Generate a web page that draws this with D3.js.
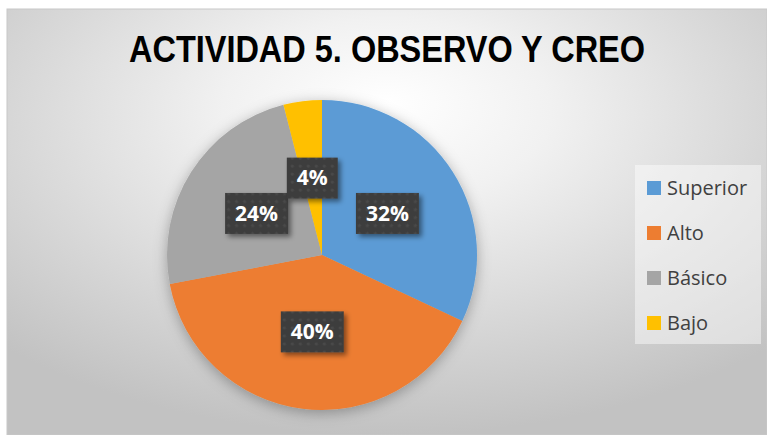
<!DOCTYPE html>
<html>
<head>
<meta charset="utf-8">
<script src="https://cdn.jsdelivr.net/npm/d3@7"></script>
<style>
html,body{margin:0;padding:0;background:#fff;}
svg{display:block;}
</style>
</head>
<body>
<svg id="chart" width="767" height="435"></svg>
<script>
const title = "ACTIVIDAD 5. OBSERVO Y CREO";
const categories = ["Superior", "Alto", "Básico", "Bajo"];
const values = [32, 40, 24, 4];
const labels = ["32%", "40%", "24%", "4%"];
const colors = ["#5b9bd5", "#ed7d31", "#a5a5a5", "#ffc000"];

const svg = d3.select("#chart");
const defs = svg.append("defs");

const bg = defs.append("radialGradient").attr("id","bg")
  .attr("cx","50%").attr("cy","28%").attr("r","72%").attr("fx","50%").attr("fy","22%");
bg.append("stop").attr("offset","0%").attr("stop-color","#ffffff");
bg.append("stop").attr("offset","30%").attr("stop-color","#f1f1f1");
bg.append("stop").attr("offset","100%").attr("stop-color","#c2c2c2");

const pieShadow = defs.append("filter").attr("id","pieShadow")
  .attr("x","-20%").attr("y","-20%").attr("width","140%").attr("height","140%");
pieShadow.append("feDropShadow").attr("dx",0).attr("dy",3).attr("stdDeviation",7)
  .attr("flood-color","#000").attr("flood-opacity",0.3);

const boxShadow = defs.append("filter").attr("id","boxShadow")
  .attr("x","-30%").attr("y","-30%").attr("width","160%").attr("height","160%");
boxShadow.append("feDropShadow").attr("dx",3).attr("dy",3).attr("stdDeviation",2.5)
  .attr("flood-color","#000").attr("flood-opacity",0.45);

const pat = defs.append("pattern").attr("id","dots").attr("patternUnits","userSpaceOnUse")
  .attr("width",8).attr("height",8);
pat.append("rect").attr("width",8).attr("height",8).attr("fill","#3d3d3d");
pat.append("circle").attr("cx",4).attr("cy",4).attr("r",1.6).attr("fill","#4a4a4a");

// chart area
svg.append("rect").attr("x",7).attr("y",9).attr("width",760).attr("height",426)
  .attr("fill","url(#bg)").attr("stroke","#c8c8c8").attr("stroke-width",1);

// title
svg.append("text").attr("x",387).attr("y",62).attr("text-anchor","middle")
  .attr("font-family","'Liberation Sans Narrow','Arial Narrow','Liberation Sans',Arial,sans-serif")
  .attr("font-weight","bold").attr("font-size",37).attr("fill","#000")
  .attr("textLength",516).attr("lengthAdjust","spacingAndGlyphs")
  .text(title);

// pie
const cx = 322, cy = 255, r = 155;
const pie = d3.pie().sort(null).value(d => d.v);
const data = pie(categories.map((c,i)=>({c, v: values[i], l: labels[i], col: colors[i]})));
const arc = d3.arc().innerRadius(0).outerRadius(r);
const g = svg.append("g").attr("transform",`translate(${cx},${cy})`);
g.append("g").attr("filter","url(#pieShadow)")
  .selectAll("path").data(data).join("path")
  .attr("d",arc).attr("fill",d=>d.data.col);

// data labels
const lg = g.append("g");
data.forEach(d => {
  const [x,y] = arc.centroid(d);
  const grp = lg.append("g").attr("transform",`translate(${x},${y})`);
  const t = grp.append("text").attr("text-anchor","middle").attr("dy","0.35em")
    .attr("font-family","'Open Sans','Noto Sans',sans-serif").attr("font-weight","bold")
    .attr("font-size",21).attr("fill","#fff").text(d.data.l);
  const w = t.node().getComputedTextLength() + 20;
  const h = 41;
  grp.insert("rect","text").attr("x",-w/2).attr("y",-h/2).attr("width",w).attr("height",h)
    .attr("fill","url(#dots)").attr("filter","url(#boxShadow)");
});

// legend
const legend = svg.append("g");
legend.append("rect").attr("x",635).attr("y",165).attr("width",126).attr("height",179)
  .attr("fill","#ffffff").attr("fill-opacity",0.45);
const li = legend.selectAll("g.item").data(categories).join("g").attr("class","item")
  .attr("transform",(d,i)=>`translate(647,${181 + i*45})`);
li.append("rect").attr("width",14).attr("height",14).attr("fill",(d,i)=>colors[i]);
li.append("text").attr("x",20).attr("y",14)
  .attr("font-family","'Open Sans','Noto Sans',sans-serif").attr("font-size",20)
  .attr("fill","#404040").text(d=>d);
</script>
</body>
</html>
